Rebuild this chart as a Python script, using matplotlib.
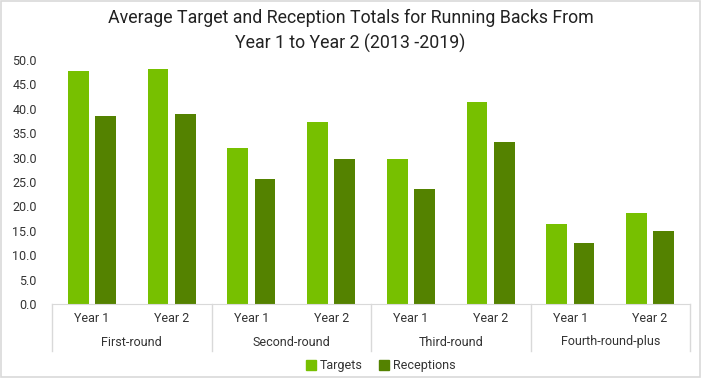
import numpy as np
import matplotlib.pyplot as plt
from matplotlib.lines import Line2D
from matplotlib.patches import Rectangle

plt.rcParams['font.family'] = ['Roboto', 'DejaVu Sans']

groups = ['First-round', 'Second-round', 'Third-round', 'Fourth-round-plus']
years = ['Year 1', 'Year 2']
targets = [47.7, 48.2, 32.0, 37.3, 29.7, 41.4, 16.4, 18.6]
receptions = [38.5, 38.9, 25.6, 29.7, 23.6, 33.2, 12.5, 15.0]

c_tar = '#77c000'
c_rec = '#548200'
grid_c = '#d9d9d9'

fig = plt.figure(figsize=(7.01, 3.78), dpi=100)
fig.patch.set_facecolor('white')
fig.add_artist(Rectangle((0.001, 0.002), 0.997, 0.995, transform=fig.transFigure,
                         fill=False, edgecolor=grid_c, lw=1.2))

ax = fig.add_axes([52 / 701, 1 - 304 / 378, 638 / 701, 244 / 378])
n = len(targets)
x = np.arange(n)
w = 0.26
ax.bar(x - 0.17, targets, w, color=c_tar, label='Targets')
ax.bar(x + 0.17, receptions, w, color=c_rec, label='Receptions')

ax.set_xlim(-0.5, n - 0.5)
ax.set_ylim(0, 50)
ax.set_yticks(np.arange(0, 50.1, 5))
ax.set_yticklabels([f'{v:.1f}' for v in np.arange(0, 50.1, 5)], fontsize=9, color='#333333')
ax.tick_params(axis='y', length=0, pad=11)
ax.set_xticks([])
for s in ['top', 'right', 'left']:
    ax.spines[s].set_visible(False)
ax.spines['bottom'].set_color(grid_c)

# two-level category axis
trans = ax.get_xaxis_transform()
for i in range(n):
    ax.text(i, -15 / 244, years[i % 2], transform=trans, ha='center', va='center',
            fontsize=9, color='#333333')
for g, name in enumerate(groups):
    ax.text(2 * g + 0.5, -38 / 244, name, transform=trans, ha='center', va='center',
            fontsize=9, color='#333333')
for k in range(len(groups) + 1):
    ax.add_line(Line2D([2 * k - 0.5, 2 * k - 0.5], [0, -47 / 244], transform=trans,
                       color=grid_c, lw=1, clip_on=False))

fig.text(0.5, 1 - 31 / 378,
         'Average Target and Reception Totals for Running Backs From\nYear 1 to Year 2 (2013 -2019)',
         ha='center', va='center', fontsize=12.8, color='#222222', linespacing=1.45)

handles = [Line2D([], [], marker='s', ls='', color=c_tar, markersize=7),
           Line2D([], [], marker='s', ls='', color=c_rec, markersize=7)]
fig.legend(handles, ['Targets', 'Receptions'], loc='center', bbox_to_anchor=(381 / 701, 1 - 366 / 378),
           ncol=2, frameon=False, fontsize=9, handletextpad=0.3, columnspacing=1.3,
           handlelength=0.8, labelcolor='#333333')

fig.savefig('out.png', dpi=100)
